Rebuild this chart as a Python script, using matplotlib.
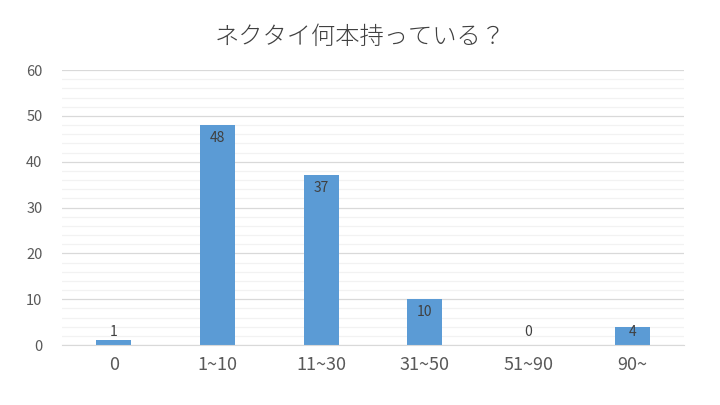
import matplotlib
matplotlib.use('Agg')
import matplotlib.pyplot as plt
from matplotlib.ticker import MultipleLocator

plt.rcParams['font.family'] = ['Noto Sans CJK JP', 'DejaVu Sans']

# data
categories = ['0', '1~10', '11~30', '31~50', '51~90', '90~']
counts = [1, 48, 37, 10, 0, 4]
title = 'ネクタイ何本持っている？'

textColor = '#595959'
barColor = '#5B9BD5'

fig = plt.figure(figsize=(7.2, 4.05), dpi=100)
ax = fig.add_axes([0.0861, 0.148, 0.864, 0.679])

xs = range(len(categories))
ax.bar(xs, counts, width=0.34, color=barColor, zorder=3)

ax.set_xlim(-0.5, len(categories) - 0.5)
ax.set_ylim(0, 60)
ax.yaxis.set_major_locator(MultipleLocator(10))
ax.yaxis.set_minor_locator(MultipleLocator(2))
ax.grid(axis='y', which='major', color='#D9D9D9', linewidth=0.9, zorder=0)
ax.grid(axis='y', which='minor', color='#F2F2F2', linewidth=0.9, zorder=0)

ax.set_xticks(list(xs))
ax.set_xticklabels(categories, fontsize=13, color=textColor)
ax.tick_params(axis='x', length=0, pad=8)
ax.tick_params(axis='y', which='both', length=0, labelsize=10.5, labelcolor=textColor, pad=14)

for s in ['top', 'right', 'left']:
    ax.spines[s].set_visible(False)
ax.spines['bottom'].set_color('#D9D9D9')
ax.spines['bottom'].set_zorder(4)

# data labels, inside end where possible
for x, v in zip(xs, counts):
    ly = max(v - 2.8, 2.8)
    ax.text(x, ly, str(v), ha='center', va='center', fontsize=10, color='#404040', zorder=5)

fig.text(0.5, 0.908, title, ha='center', va='center', fontsize=17.5,
         fontweight='light', color='#404040')

fig.savefig('out.png', dpi=100)
